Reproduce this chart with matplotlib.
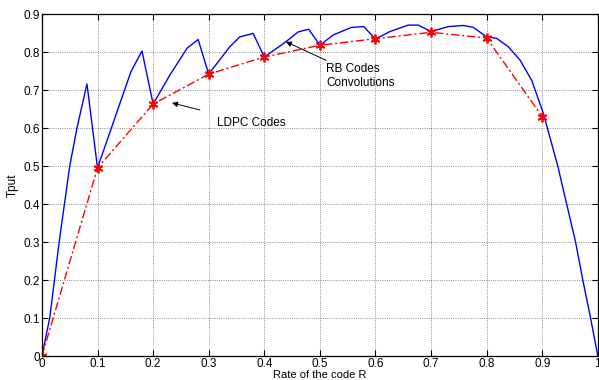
import numpy as np
import matplotlib.pyplot as plt

plt.rcParams['font.family'] = ['Liberation Sans', 'DejaVu Sans']

# LDPC codes (red dash-dot with asterisks)
ldpc_rate = [0.0, 0.1, 0.2, 0.3, 0.4, 0.5, 0.6, 0.7, 0.8, 0.9]
ldpc_tput = [0.0, 0.495, 0.663, 0.742, 0.787, 0.818, 0.835, 0.852, 0.837, 0.630]

# RB codes convolutions (blue solid)
rb_rate = [0.0, 0.014, 0.031, 0.05, 0.063, 0.081, 0.1,
           0.16, 0.180, 0.2,
           0.230, 0.261, 0.281, 0.3,
           0.338, 0.356, 0.380, 0.4,
           0.437, 0.461, 0.480, 0.5,
           0.524, 0.557, 0.579, 0.6,
           0.626, 0.659, 0.677, 0.7,
           0.731, 0.758, 0.776, 0.8,
           0.818, 0.839, 0.860, 0.881, 0.902, 0.928, 0.944, 0.960, 0.973, 0.987, 1.0]
rb_tput = [0.0, 0.10, 0.30, 0.50, 0.60, 0.716, 0.495,
           0.748, 0.803, 0.663,
           0.739, 0.810, 0.833, 0.742,
           0.814, 0.840, 0.849, 0.787,
           0.825, 0.853, 0.860, 0.818,
           0.845, 0.865, 0.867, 0.834,
           0.854, 0.871, 0.871, 0.854,
           0.867, 0.870, 0.865, 0.840,
           0.836, 0.814, 0.779, 0.726, 0.639, 0.50, 0.40, 0.30, 0.20, 0.10, 0.0]

fig = plt.figure(figsize=(5.99, 3.8), dpi=100)
ax = fig.add_axes([0.070, 0.063, 0.928, 0.900])

ax.plot(rb_rate, rb_tput, color='blue', linewidth=1.0)
ax.plot(ldpc_rate, ldpc_tput, color='red', linewidth=1.0, dashes=(6, 2, 1.5, 2),
        marker=(6, 2, 0), markersize=7, markeredgewidth=1.3)

ax.set_xlim(0, 1)
ax.set_ylim(0, 0.9)
ax.set_xticks(np.arange(0, 1.01, 0.1))
ax.set_xticklabels(['0', '0.1', '0.2', '0.3', '0.4', '0.5', '0.6', '0.7', '0.8', '0.9', '1'])
ax.set_yticks(np.arange(0, 0.91, 0.1))
ax.set_yticklabels(['0', '0.1', '0.2', '0.3', '0.4', '0.5', '0.6', '0.7', '0.8', '0.9'])
ax.tick_params(direction='in', top=True, right=True, labelsize=8.5, length=4, pad=1.5)
ax.grid(True, linestyle=':', color='black', linewidth=0.6, alpha=0.6)
for s in ax.spines.values():
    s.set_linewidth(0.9)

ax.set_xlabel('Rate of the code R', fontsize=8, labelpad=0)
ax.set_ylabel('Tput', fontsize=8.5, labelpad=3)

ax.annotate('RB Codes\nConvolutions', xy=(0.439, 0.827), xytext=(0.511, 0.737),
            fontsize=8.5, va='center', ha='left',
            arrowprops=dict(arrowstyle='-|>', color='black', lw=0.7,
                            shrinkA=0, shrinkB=0, mutation_scale=8),
            annotation_clip=False)
ax.annotate('LDPC Codes', xy=(0.234, 0.666), xytext=(0.315, 0.614),
            fontsize=8.5, va='center', ha='left',
            arrowprops=dict(arrowstyle='-|>', color='black', lw=0.7,
                            shrinkA=12, shrinkB=0, mutation_scale=8))

fig.savefig('out.png', dpi=100)
